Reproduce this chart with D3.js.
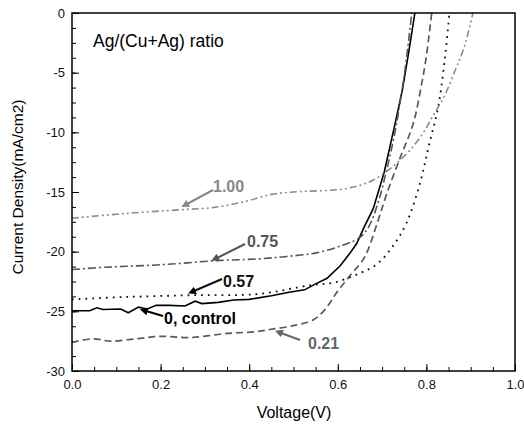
<!DOCTYPE html>
<html><head><meta charset="utf-8">
<script src="https://cdn.jsdelivr.net/npm/d3@7"></script>
<style>body{margin:0;background:#fff}svg{display:block;font-family:"Liberation Sans",Arial,sans-serif}</style>
</head><body><div id="chart"></div>
<script>
const xTicks = [0.0, 0.2, 0.4, 0.6, 0.8, 1.0];
const yTicks = [0, -5, -10, -15, -20, -25, -30];
const ctrl = [[0,-24.95],[0.04,-24.95],[0.056,-24.7],[0.07,-24.85],[0.11,-24.8],[0.127,-25.12],[0.15,-24.65],[0.17,-24.8],[0.19,-24.5],[0.22,-24.5],[0.255,-24.55],[0.278,-24.15],[0.293,-24.35],[0.33,-24.25],[0.365,-24.05],[0.40,-24.0],[0.45,-23.7],[0.49,-23.4],[0.525,-23.2],[0.55,-22.7],[0.575,-22.25],[0.605,-21.2],[0.628,-20.1],[0.643,-19.3],[0.66,-17.9],[0.68,-16.4],[0.705,-13.3],[0.728,-9.5],[0.746,-6.4],[0.76,-3.3],[0.774,0]];
const r021 = [[0,-27.6],[0.048,-27.3],[0.086,-27.5],[0.146,-27.3],[0.2,-27.1],[0.266,-27.2],[0.35,-26.85],[0.417,-26.7],[0.45,-26.5],[0.5,-26.2],[0.545,-25.7],[0.57,-24.9],[0.60,-23.3],[0.63,-21.9],[0.66,-20.5],[0.69,-17.5],[0.71,-15.2],[0.74,-12.2],[0.77,-9.3],[0.79,-5.8],[0.80,-3.6],[0.812,0]];
const r057 = [[0,-24.0],[0.12,-23.8],[0.27,-23.65],[0.42,-23.55],[0.54,-22.8],[0.59,-22.6],[0.65,-21.8],[0.69,-21.0],[0.725,-19.5],[0.755,-17.6],[0.786,-14.2],[0.805,-11.2],[0.827,-7.8],[0.842,-3.7],[0.852,0]];
const r075 = [[0,-21.5],[0.078,-21.3],[0.199,-21.1],[0.327,-20.75],[0.424,-20.6],[0.485,-20.4],[0.552,-20.1],[0.612,-19.45],[0.65,-18.8],[0.67,-17.9],[0.69,-16.0],[0.71,-13.2],[0.73,-9.8],[0.75,-5.2],[0.767,0]];
const r100 = [[0,-17.2],[0.12,-16.8],[0.24,-16.5],[0.32,-16.3],[0.39,-15.8],[0.45,-15.2],[0.50,-15.0],[0.62,-14.7],[0.68,-14.0],[0.75,-12.0],[0.79,-10.2],[0.815,-8.6],[0.84,-7.0],[0.865,-4.8],[0.885,-2.9],[0.905,0]];
const seriesNames = ["0, control","0.21","0.57","0.75","1.00"];

const W = 524, H = 424;
const m = {l:72, r:9, t:13, b:53};
const svg = d3.select("#chart").append("svg").attr("width",W).attr("height",H);
const x = d3.scaleLinear().domain([0,1]).range([m.l, W-m.r]);
const y = d3.scaleLinear().domain([-30,0]).range([H-m.b, m.t]);

const defs = svg.append("defs");
defs.append("clipPath").attr("id","clip").append("rect")
  .attr("x",m.l).attr("y",m.t).attr("width",W-m.l-m.r).attr("height",H-m.t-m.b);

const gx = svg.append("g").attr("transform",`translate(0,${H-m.b})`);
gx.call(d3.axisBottom(x).tickValues(d3.range(0,1.0001,0.05)).tickSize(-4).tickFormat(""));
gx.select(".domain").remove();
const gx2 = svg.append("g").attr("transform",`translate(0,${H-m.b})`);
gx2.call(d3.axisBottom(x).tickValues(xTicks).tickSize(-7).tickPadding(9).tickFormat(d=>d.toFixed(1)));
gx2.select(".domain").remove();
gx2.selectAll("text").attr("font-size",13).attr("fill","#111");

const gy = svg.append("g").attr("transform",`translate(${m.l},0)`);
gy.call(d3.axisLeft(y).tickValues(d3.range(-30,0.001,1.25)).tickSize(-4).tickFormat(""));
gy.select(".domain").remove();
const gy2 = svg.append("g").attr("transform",`translate(${m.l},0)`);
gy2.call(d3.axisLeft(y).tickValues(yTicks).tickSize(-7).tickPadding(7).tickFormat(d=>String(d)));
gy2.select(".domain").remove();
gy2.selectAll("text").attr("font-size",13).attr("fill","#111");
svg.selectAll(".tick line").attr("stroke","#000").attr("stroke-width",1);

const line = d3.line().x(d=>x(d[0])).y(d=>y(d[1])).curve(d3.curveCatmullRom.alpha(0.5));
const lineS = d3.line().x(d=>x(d[0])).y(d=>y(d[1]));
const plot = svg.append("g").attr("clip-path","url(#clip)");
const styles = [
  {data:ctrl, c:"#000", w:1.6, dash:null, gen:lineS},
  {data:r021, c:"#5a5a5a", w:1.7, dash:"7,4", gen:line},
  {data:r057, c:"#111", w:1.8, dash:"1.8,5", gen:line},
  {data:r075, c:"#555", w:1.6, dash:"8,3,2,3", gen:line},
  {data:r100, c:"#8c8c8c", w:1.6, dash:"7,3,2,3,2,3", gen:line}
];
styles.forEach(s=>{
  plot.append("path").datum(s.data).attr("d",s.gen).attr("fill","none")
    .attr("stroke",s.c).attr("stroke-width",s.w).attr("stroke-dasharray",s.dash);
});

svg.append("rect").attr("x",m.l).attr("y",m.t).attr("width",W-m.l-m.r).attr("height",H-m.t-m.b)
  .attr("fill","none").attr("stroke","#000").attr("stroke-width",1.5);

defs.selectAll("marker").data([["a0","#000"],["a1","#555"],["a2","#888"],["a3","#666"]]).enter()
  .append("marker").attr("id",d=>d[0]).attr("viewBox","0 0 10 10").attr("refX",2).attr("refY",5)
  .attr("markerWidth",4).attr("markerHeight",4).attr("orient","auto-start-reverse")
  .append("path").attr("d","M0,0L10,5L0,10z").attr("fill",d=>d[1]);

const ann = [
  {t:seriesNames[4], tx:213, ty:192, c:"#888", a:[213,190,187,204], mk:"a2"},
  {t:seriesNames[3], tx:247, ty:247, c:"#555", a:[245,244,217,258], mk:"a1"},
  {t:seriesNames[2], tx:223, ty:287, c:"#111", a:[222,279,194,291], mk:"a0"},
  {t:seriesNames[0], tx:164, ty:324, c:"#000", a:[163,316,146,311], mk:"a0"},
  {t:seriesNames[1], tx:308, ty:349, c:"#666", a:[300,340,281,333], mk:"a3"}
];
ann.forEach(a=>{
  svg.append("line").attr("x1",a.a[0]).attr("y1",a.a[1]).attr("x2",a.a[2]).attr("y2",a.a[3])
    .attr("stroke",a.c).attr("stroke-width",2).attr("marker-end",`url(#${a.mk})`);
  svg.append("text").attr("x",a.tx).attr("y",a.ty).text(a.t).attr("font-size",16)
    .attr("font-weight","bold").attr("fill",a.c);
});

svg.append("text").attr("x",93).attr("y",47).text("Ag/(Cu+Ag) ratio").attr("font-size",17.5).attr("fill","#000");
svg.append("text").attr("x",294).attr("y",418).attr("text-anchor","middle").text("Voltage(V)").attr("font-size",16);
svg.append("text").attr("transform",`translate(23,187) rotate(-90)`).attr("text-anchor","middle")
  .text("Current Density(mA/cm2)").attr("font-size",15.5);
</script></body></html>
